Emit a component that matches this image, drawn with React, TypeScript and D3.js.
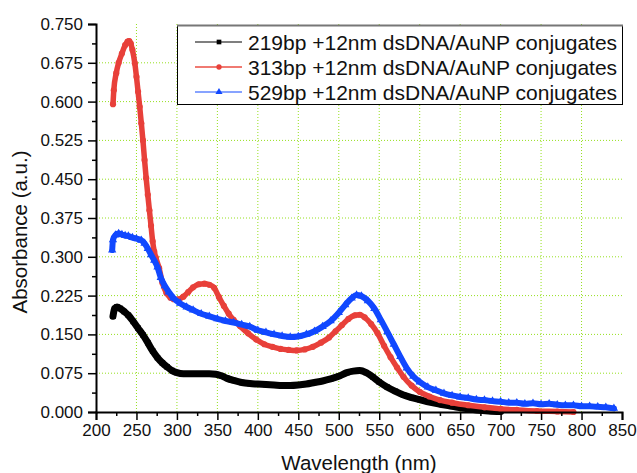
import React, { useEffect, useRef } from 'react';
import * as d3 from 'd3';

// wavelength (nm) / absorbance pairs
const wl219 = [221, 223, 226, 230, 235, 240, 246, 252, 258, 264, 270, 276, 282, 288, 294, 300, 308, 318, 330, 340, 348, 355, 362, 370, 380, 390, 400, 410, 420, 430, 440, 450, 460, 470, 480, 490, 500, 510, 518, 526, 534, 542, 550, 560, 570, 580, 590, 600, 612, 625, 640, 655, 670, 685, 700];
const abs219 = [0.185, 0.2, 0.203, 0.2, 0.194, 0.187, 0.175, 0.162, 0.149, 0.134, 0.118, 0.105, 0.095, 0.087, 0.08, 0.076, 0.074, 0.074, 0.074, 0.074, 0.073, 0.07, 0.065, 0.061, 0.057, 0.055, 0.054, 0.053, 0.052, 0.051, 0.051, 0.052, 0.054, 0.057, 0.06, 0.064, 0.069, 0.076, 0.079, 0.08, 0.076, 0.068, 0.058, 0.048, 0.04, 0.033, 0.028, 0.024, 0.019, 0.015, 0.011, 0.007, 0.004, 0.002, 0.001];

const wl313 = [221, 222, 225, 228, 232, 236, 239, 241, 243, 245, 248, 250, 252, 254, 256, 258, 260, 262, 264, 266, 268, 270, 272, 274, 278, 282, 287, 292, 296, 302, 308, 314, 320, 327, 334, 340, 346, 352, 358, 364, 370, 378, 388, 398, 408, 418, 428, 438, 448, 458, 468, 478, 488, 496, 504, 512, 520, 526, 532, 540, 548, 556, 564, 572, 580, 590, 600, 612, 625, 640, 660, 680, 700, 720, 745, 770, 790];
const abs313 = [0.595, 0.622, 0.655, 0.675, 0.693, 0.709, 0.716, 0.717, 0.712, 0.7, 0.674, 0.648, 0.619, 0.59, 0.558, 0.525, 0.487, 0.452, 0.42, 0.39, 0.36, 0.33, 0.31, 0.298, 0.278, 0.25, 0.23, 0.221, 0.218, 0.218, 0.223, 0.232, 0.241, 0.247, 0.248, 0.246, 0.24, 0.222, 0.205, 0.19, 0.178, 0.166, 0.152, 0.14, 0.131, 0.126, 0.122, 0.12, 0.119, 0.121, 0.126, 0.134, 0.144, 0.156, 0.168, 0.18, 0.187, 0.188, 0.183, 0.17, 0.152, 0.128, 0.106, 0.086, 0.068, 0.051, 0.039, 0.03, 0.023, 0.018, 0.013, 0.009, 0.006, 0.004, 0.002, 0.001, 0.0];

const wl529 = [220, 221, 224, 228, 232, 236, 240, 245, 250, 256, 260, 264, 268, 272, 276, 280, 285, 290, 296, 304, 312, 320, 330, 340, 350, 360, 370, 380, 390, 400, 410, 420, 430, 440, 450, 460, 470, 480, 490, 500, 508, 516, 522, 528, 536, 544, 552, 560, 568, 576, 584, 592, 600, 610, 620, 630, 640, 650, 660, 670, 680, 690, 700, 710, 720, 730, 740, 750, 760, 770, 780, 790, 800, 810, 820, 830, 840];
const abs529 = [0.313, 0.333, 0.342, 0.345, 0.343, 0.341, 0.34, 0.337, 0.335, 0.332, 0.326, 0.316, 0.304, 0.293, 0.28, 0.26, 0.244, 0.232, 0.22, 0.21, 0.203, 0.197, 0.19, 0.185, 0.18, 0.176, 0.173, 0.169, 0.165, 0.158, 0.154, 0.15, 0.147, 0.145, 0.146, 0.15, 0.156, 0.165, 0.176, 0.192, 0.207, 0.22, 0.226, 0.224, 0.215, 0.2, 0.178, 0.155, 0.131, 0.107, 0.085, 0.069, 0.058, 0.048, 0.042, 0.036, 0.032, 0.029, 0.027, 0.024, 0.023, 0.021, 0.02, 0.018, 0.018, 0.016, 0.017, 0.015, 0.016, 0.014, 0.013, 0.013, 0.011, 0.011, 0.01, 0.009, 0.007];

const seriesNames = [
  '219bp +12nm dsDNA/AuNP conjugates',
  '313bp +12nm dsDNA/AuNP conjugates',
  '529bp +12nm dsDNA/AuNP conjugates',
];
const xTicks = [200, 250, 300, 350, 400, 450, 500, 550, 600, 650, 700, 750, 800, 850];
const yTicks = [0, 0.075, 0.15, 0.225, 0.3, 0.375, 0.45, 0.525, 0.6, 0.675, 0.75];

const FONT = 'Liberation Sans, Arial, sans-serif';

const App = () => {
  const ref = useRef(null);

  useEffect(() => {
    d3.select(ref.current).selectAll('*').remove();
    const svg = d3.select(ref.current);
    const width = 637;
    const height = 473;
    const margin = { top: 24, right: 15, bottom: 61, left: 96 };

    const x = d3.scaleLinear().domain([200, 850]).range([margin.left, width - margin.right]);
    const y = d3.scaleLinear().domain([0, 0.75]).range([height - margin.bottom, margin.top]);

    // grid
    const grid = svg.append('g');
    grid.selectAll('.vg')
      .data(xTicks.filter(d => d > 200 && d < 850))
      .enter().append('line')
      .attr('x1', d => x(d)).attr('x2', d => x(d))
      .attr('y1', y(0)).attr('y2', y(0.75))
      .attr('stroke', '#96e01e').attr('stroke-width', 1)
      .attr('stroke-dasharray', '1,2');
    grid.selectAll('.hg')
      .data(yTicks.filter(d => d > 0 && d < 0.75))
      .enter().append('line')
      .attr('x1', x(200)).attr('x2', x(850))
      .attr('y1', d => y(d)).attr('y2', d => y(d))
      .attr('stroke', '#96e01e').attr('stroke-width', 1)
      .attr('stroke-dasharray', '1,2');

    const series = [
      { wl: wl219, abs: abs219, color: '#000000', band: 7, legendLine: '#000000', legendW: 1.2, marker: 'square' },
      { wl: wl313, abs: abs313, color: '#e8403a', band: 5.5, legendLine: '#f07a72', legendW: 2, marker: 'circle' },
      { wl: wl529, abs: abs529, color: '#1148ff', band: 6, legendLine: '#1148ff', legendW: 1.2, marker: 'triangle' },
    ];

    const line = d3.line()
      .x(d => x(d[0]))
      .y(d => y(d[1]))
      .curve(d3.curveMonotoneX);

    const symbolFor = (m, size) => {
      const type = m === 'square' ? d3.symbolSquare : m === 'circle' ? d3.symbolCircle : d3.symbolTriangle;
      return d3.symbol().type(type).size(size)();
    };

    series.forEach(s => {
      const pts = s.wl.map((w, i) => [w, s.abs[i]]);
      svg.append('path')
        .datum(pts)
        .attr('fill', 'none')
        .attr('stroke', s.color)
        .attr('stroke-width', s.band)
        .attr('stroke-linejoin', 'round')
        .attr('stroke-linecap', 'round')
        .attr('d', line);
      svg.append('g')
        .selectAll('path')
        .data(pts)
        .enter().append('path')
        .attr('transform', d => `translate(${x(d[0])},${y(d[1])})`)
        .attr('d', symbolFor(s.marker, 30))
        .attr('fill', s.color);
    });

    // axes
    const xAxis = d3.axisBottom(x).tickValues(xTicks).tickSize(8).tickPadding(4).tickFormat(d3.format('d'));
    const xMinor = d3.axisBottom(x).tickValues(d3.range(225, 850, 50)).tickSize(4).tickFormat(() => '');
    const yAxis = d3.axisLeft(y).tickValues(yTicks).tickSize(8).tickPadding(5).tickFormat(d3.format('.3f'));
    const yMinor = d3.axisLeft(y).tickValues(yTicks.slice(0, -1).map(d => d + 0.0375)).tickSize(4).tickFormat(() => '');

    const gx = svg.append('g').attr('transform', `translate(0,${y(0)})`).call(xAxis);
    svg.append('g').attr('transform', `translate(0,${y(0)})`).call(xMinor).select('.domain').remove();
    const gy = svg.append('g').attr('transform', `translate(${x(200)},0)`).call(yAxis);
    svg.append('g').attr('transform', `translate(${x(200)},0)`).call(yMinor).select('.domain').remove();

    [gx, gy].forEach(g => {
      g.selectAll('text').attr('fill', '#111').attr('font-family', FONT).attr('font-size', '17px');
      g.select('.domain').attr('stroke', '#000').attr('stroke-width', 2);
    });
    svg.selectAll('.tick line').attr('stroke', '#000').attr('stroke-width', 1.5);

    // axis titles
    svg.append('text')
      .attr('x', x(525)).attr('y', 470)
      .attr('text-anchor', 'middle')
      .attr('font-family', FONT).attr('font-size', '20.5px').attr('fill', '#111')
      .text('Wavelength (nm)');
    svg.append('text')
      .attr('transform', 'translate(27,232) rotate(-90)')
      .attr('text-anchor', 'middle')
      .attr('font-family', FONT).attr('font-size', '20.5px').attr('fill', '#111')
      .text('Absorbance (a.u.)');

    // legend
    const lg = svg.append('g');
    lg.append('rect')
      .attr('x', 177.5).attr('y', 25.5).attr('width', 445).attr('height', 79)
      .attr('fill', '#fff').attr('stroke', '#000').attr('stroke-width', 1);
    lg.append('line')
      .attr('x1', 177).attr('x2', 623).attr('y1', 25.5).attr('y2', 25.5)
      .attr('stroke', '#777').attr('stroke-width', 2);
    const rowY = [42, 67, 92];
    series.forEach((s, i) => {
      lg.append('line')
        .attr('x1', 195).attr('x2', 242).attr('y1', rowY[i]).attr('y2', rowY[i])
        .attr('stroke', s.legendLine).attr('stroke-width', s.legendW);
      lg.append('path')
        .attr('transform', `translate(219,${rowY[i]})`)
        .attr('d', symbolFor(s.marker, 22))
        .attr('fill', s.color);
      lg.append('text')
        .attr('x', 248).attr('y', rowY[i]).attr('dy', '0.36em')
        .attr('font-family', FONT).attr('font-size', '21px').attr('fill', '#111')
        .text(seriesNames[i]);
    });
  }, []);

  return (
    <svg ref={ref} width="637" height="473" style={{ position: 'absolute', left: 0, top: 0, background: '#fff' }}></svg>
  );
};

export default App;
